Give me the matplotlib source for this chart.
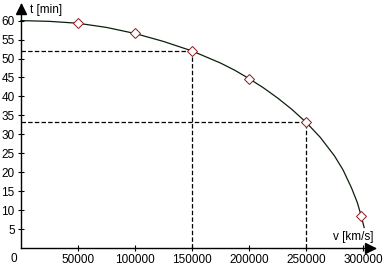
import matplotlib
matplotlib.use("Agg")
import matplotlib.pyplot as plt

# curve: speed v [km/s] -> time t [min]
curve_v = [0, 25000, 50000, 75000, 100000, 125000, 150000, 175000, 187500,
           200000, 212500, 225000, 237500, 250000, 262500, 275000, 282500,
           290000, 295000, 298500, 301000]
curve_t = [60.0, 59.8, 59.3, 58.2, 56.6, 54.5, 52.0, 48.8, 46.9,
           44.7, 42.3, 39.6, 36.6, 33.2, 29.2, 24.3, 20.6,
           15.8, 12.0, 8.4, 5.4]

# measured points (diamonds)
pts_v = [50000, 100000, 150000, 200000, 250000, 298500]
pts_t = [59.3, 56.6, 52.0, 44.7, 33.2, 8.4]

# guide lines
guide_v = [150000, 250000]
guide_t = [52.0, 33.2]

xticks = [50000, 100000, 150000, 200000, 250000, 300000]
yticks = [5, 10, 15, 20, 25, 30, 35, 40, 45, 50, 55, 60]

plt.rcParams['font.family'] = ['Liberation Sans', 'DejaVu Sans']
plt.rcParams['lines.scale_dashes'] = False

W, H = 386, 267
fig = plt.figure(figsize=(W / 100, H / 100), dpi=100)
x0, y0, x1, y1 = 21, 248, 375, 4
ax = fig.add_axes([x0 / W, (H - y0) / H, (x1 - x0) / W, (y0 - y1) / H])
xmax = (x1 - x0) / 57 * 50000
ymax = (y0 - y1) / 3.79
ax.set_xlim(0, xmax)
ax.set_ylim(0, ymax)

for s in ['top', 'right']:
    ax.spines[s].set_visible(False)
for s in ['left', 'bottom']:
    ax.spines[s].set_linewidth(1.0)

for v, t in zip(guide_v, guide_t):
    ax.plot([0, v], [t, t], color='black', lw=0.9, ls=(0, (3.2, 1.6)))
    ax.plot([v, v], [0, t], color='black', lw=0.9, ls=(0, (3.2, 1.6)))

ax.plot(curve_v, curve_t, color='#0a200a', lw=0.9, clip_on=False)
ax.plot(pts_v, pts_t, ls='none', marker='D', ms=4.6, mfc='white',
        mec='#8b1a1a', mew=0.7, zorder=5)

# axis arrows
ax.plot([0], [ymax - 1.4], marker='^', ms=7, color='black', clip_on=False)
ax.plot([xmax - 4000], [0], marker='>', ms=7, color='black', clip_on=False)

ax.set_xticks(xticks)
ax.set_xticklabels([str(v) for v in xticks])
ax.set_yticks(yticks)
ax.tick_params(direction='inout', length=5, width=0.8, labelsize=8.5, pad=2)

ax.text(-3000, -1.3, '0', fontsize=8.5, ha='right', va='top')
ax.text(8000, ymax - 1.6, 't [min]', fontsize=8.5, ha='left', va='center')
ax.text(xmax - 1000, 3.0, 'v [km/s]', fontsize=8.5, ha='right', va='center')

fig.savefig('out.png', dpi=100)
